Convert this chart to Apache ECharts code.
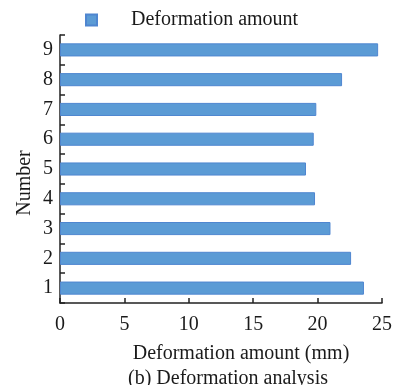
<!DOCTYPE html>
<html>
<head>
<meta charset="utf-8">
<script src="https://cdn.jsdelivr.net/npm/echarts@6/dist/echarts.min.js"></script>
<style>
  html, body { margin: 0; padding: 0; background: #fff; }
  #chart { width: 395px; height: 385px; }
</style>
</head>
<body>
<div id="chart"></div>
<script>
// Sample numbers (bottom to top on the vertical axis)
const numbers = ['1', '2', '3', '4', '5', '6', '7', '8', '9'];
// Deformation per sample, mm
const deformation = [23.6, 22.6, 21.0, 19.8, 19.1, 19.7, 19.9, 21.9, 24.7];
// Horizontal axis tick values
const xTicks = [0, 5, 10, 15, 20, 25];

const serif = '"Liberation Serif", "Times New Roman", serif';
const axisColor = '#222';
const textColor = '#1a1a1a';

const chart = echarts.init(document.getElementById('chart'), null, { renderer: 'canvas' });

chart.setOption({
  animation: false,
  backgroundColor: '#fff',
  textStyle: { fontFamily: serif },
  title: {
    text: '(b) Deformation analysis',
    left: 223,
    textAlign: 'center',
    top: 363,
    textStyle: { fontFamily: serif, fontSize: 20, fontWeight: 'normal', color: textColor, lineHeight: 22 }
  },
  legend: {
    data: ['Deformation amount'],
    left: 85,
    top: 10,
    padding: 0,
    itemWidth: 11,
    itemHeight: 11,
    icon: 'rect',
    textStyle: {
      fontFamily: serif, fontSize: 20, color: textColor,
      padding: [0, 0, 0, 29]
    }
  },
  grid: { left: 60, right: 13, top: 35, bottom: 82, outerBoundsMode: 'none', containLabel: false },
  xAxis: {
    type: 'value',
    min: xTicks[0],
    max: xTicks[xTicks.length - 1],
    interval: xTicks[1] - xTicks[0],
    name: 'Deformation amount (mm)',
    nameLocation: 'middle',
    nameGap: 41,
    nameMoveOverlap: false,
    nameTextStyle: { fontFamily: serif, fontSize: 20, color: textColor, padding: [0, 0, 0, 40] },
    axisLine: { show: true, lineStyle: { color: axisColor, width: 1.5 } },
    axisTick: { show: true, inside: true, length: 5, lineStyle: { color: axisColor, width: 1.5 } },
    axisLabel: { fontFamily: serif, fontSize: 20, color: textColor, margin: 12 },
    splitLine: { show: false }
  },
  yAxis: {
    type: 'category',
    data: numbers,
    name: 'Number',
    nameLocation: 'middle',
    nameGap: 25,
    nameMoveOverlap: false,
    nameRotate: 90,
    nameTextStyle: { fontFamily: serif, fontSize: 20, color: textColor, padding: [0, 28, 0, 0] },
    boundaryGap: true,
    axisLine: { show: true, lineStyle: { color: axisColor, width: 1.5 } },
    axisTick: { show: true, inside: true, length: 5, alignWithLabel: false, lineStyle: { color: axisColor, width: 1.5 } },
    axisLabel: { fontFamily: serif, fontSize: 20, color: textColor, margin: 7 },
    splitLine: { show: false }
  },
  series: [{
    name: 'Deformation amount',
    type: 'bar',
    data: deformation,
    barWidth: '44%',
    itemStyle: { color: '#5b9bd5', borderColor: '#4f86d0', borderWidth: 1 }
  }]
});
</script>
</body>
</html>
